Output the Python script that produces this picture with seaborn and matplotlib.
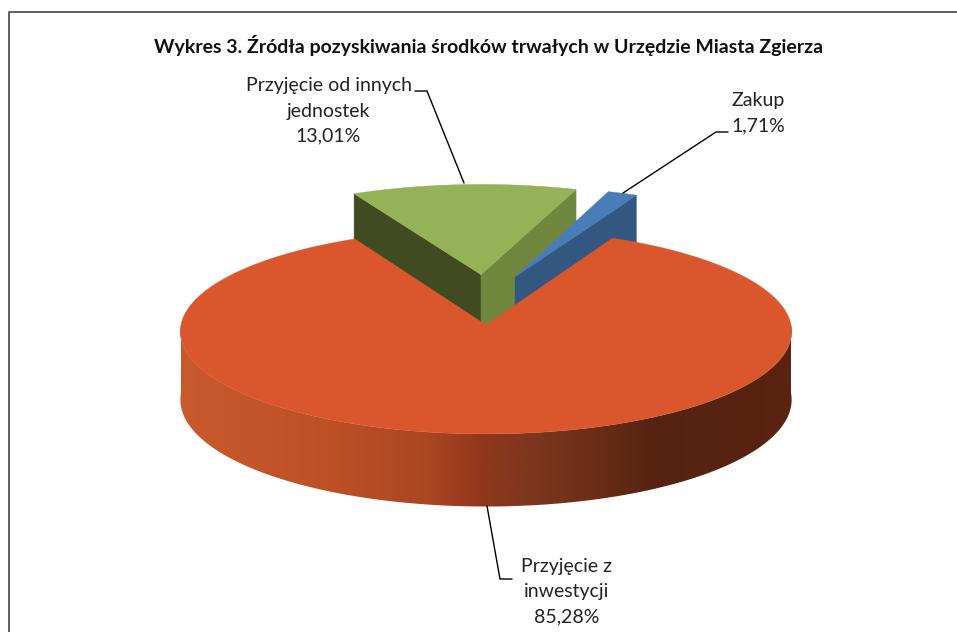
import numpy as np
import matplotlib
matplotlib.use('Agg')
import matplotlib.pyplot as plt
from matplotlib.patches import Polygon
import seaborn as sns

title = 'Wykres 3. Źródła pozyskiwania środków trwałych w Urzędzie Miasta Zgierza'
labels = ['Zakup', 'Przyjęcie z\ninwestycji', 'Przyjęcie od innych\njednostek']
shares = [1.71, 85.28, 13.01]
share_text = ['1,71%', '85,28%', '13,01%']

sns.set_theme(style='white')
plt.rcParams['font.family'] = ['Lato', 'DejaVu Sans']

# same order as the slices, top face / radial wall
top_colors = ['#4A7DB8', '#DA572D', '#95B257']
left_wall = [None, None, '#404B21']
right_wall = ['#335781', None, '#6F883E']

# pie projection, in pixels
cx, cy = 486, 325
R, H, D, k = 305, 102, 68, 0.0634
first_angle = 19.84
explode = [(0.098, 0.485), (0, 0), (-0.017, 0.51)]

wall_x = [180, 330, 430, 480, 530, 600, 660, 791]
wall_r = [200, 190, 170, 145, 125, 105, 85, 90]
wall_g = [90, 80, 70, 55, 55, 45, 34, 35]
wall_b = [45, 38, 35, 28, 30, 22, 17, 18]


def project(x, y, z=0):
    w = 1 / (1 + k * y)
    return cx + R * x * w, cy - H * y * w + D * z * w


fig, ax = plt.subplots(figsize=(9.57, 6.32), dpi=100)
ax.set_position([0, 0, 1, 1])
ax.axis('off')

starts = first_angle + np.cumsum([0] + shares[:-1]) * 3.6
ends = first_angle + np.cumsum(shares) * 3.6


def radial_wall(angle, dx, dy, color):
    ex, ey = dx + np.sin(np.radians(angle)), dy + np.cos(np.radians(angle))
    xs, ys = project(np.array([dx, ex, ex, dx]), np.array([dy, ey, ey, dy]), np.array([0, 0, 1, 1]))
    ax.fill(xs, ys, color=color, lw=0.3)


def outer_wall():
    # front half of the rim, gradient image clipped to the rim shape
    t = np.radians(np.arange(90, 270.5, 0.5))
    xr, yr = np.sin(t), np.cos(t)
    px0, py0 = project(xr, yr)
    px1, py1 = project(xr, yr, 1)
    xs = np.arange(px0.min() - 2, px0.max() + 3)
    grad = np.stack([np.interp(xs, wall_x, c) for c in (wall_r, wall_g, wall_b)], axis=1)[None, :, :] / 255
    img = ax.imshow(grad, extent=(xs[0], xs[-1], py1.max() + 2, py0.min() - 2), aspect='auto', zorder=1)
    outline = np.c_[np.r_[px0, px1[::-1]], np.r_[py0, py1[::-1]]]
    img.set_clip_path(Polygon(outline, transform=ax.transData))


# draw back slices first, orange last
for i in [2, 0, 1]:
    dx, dy = explode[i]
    if left_wall[i]:
        radial_wall(starts[i], dx, dy, left_wall[i])
    if right_wall[i]:
        radial_wall(ends[i], dx, dy, right_wall[i])
    if i == 1:
        outer_wall()
    t = np.radians(np.linspace(starts[i], ends[i], int((ends[i] - starts[i]) * 2) + 2))
    xs, ys = project(np.r_[dx, dx + np.sin(t)], np.r_[dy, dy + np.cos(t)])
    ax.fill(xs, ys, color=top_colors[i], lw=0.3)

# leader lines
ax.plot([415, 427, 464], [91, 91, 183], color='black', lw=1)
ax.plot([728, 716, 623], [132, 132, 193], color='black', lw=1)
ax.plot([487, 500, 512], [506, 579, 579], color='black', lw=1)

ax.text(488.5, 46, title, ha='center', va='center', fontsize=14, fontweight='bold', color='#111111')
text_color = '#222222'
ax.text(758, 113, labels[0] + '\n' + share_text[0], ha='center', va='center', fontsize=14, color=text_color, linespacing=1.58)
ax.text(566.5, 592, labels[1] + '\n' + share_text[1], ha='center', va='center', fontsize=14, color=text_color, linespacing=1.58)
ax.text(328.5, 111, labels[2] + '\n' + share_text[2], ha='center', va='center', fontsize=14, color=text_color, linespacing=1.58)

# chart frame, open on the right and at the bottom
ax.plot([9, 9, 957], [632, 11.5, 11.5], color='#444444', lw=1.2)

ax.set_xlim(0, 957)
ax.set_ylim(632, 0)
fig.savefig('out.png', dpi=100)
